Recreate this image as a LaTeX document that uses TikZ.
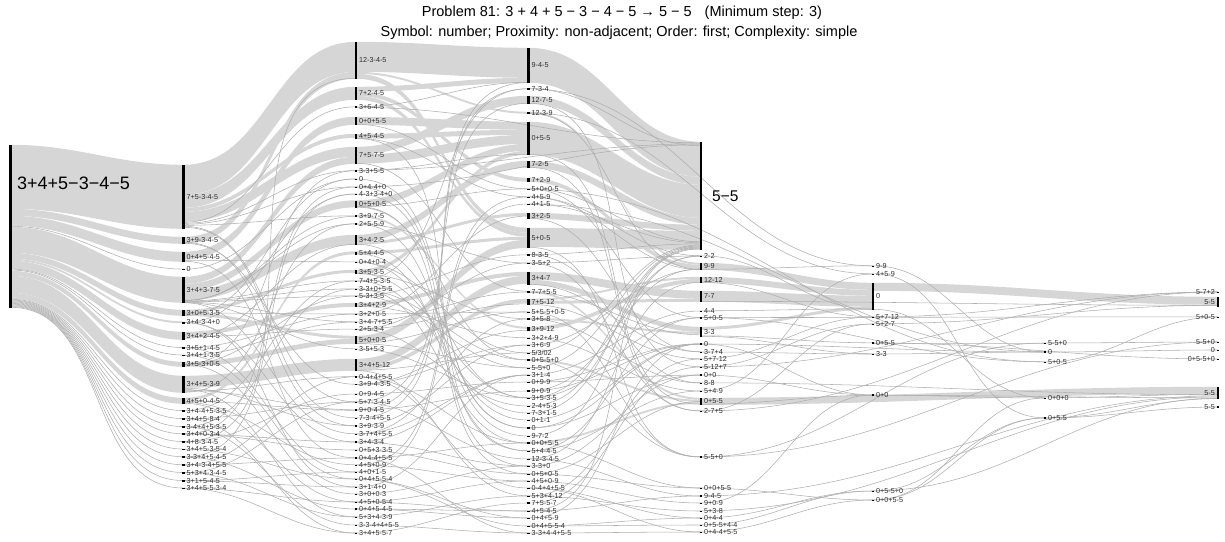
\documentclass[tikz,border=0pt]{standalone}
\usepackage{fontspec}
\setmainfont{Liberation Sans}
\usetikzlibrary{calc}
\pgfdeclarelayer{bg}
\pgfsetlayers{bg,main}
\definecolor{bandc}{RGB}{214,214,214}
\definecolor{linec}{RGB}{175,175,175}
\definecolor{txtc}{RGB}{45,45,45}
\tikzset{
  bar/.style={rectangle,fill=black,draw=none,inner sep=0pt,minimum width=2.4pt},
  lbl/.style={anchor=west,inner sep=0pt,xshift=1.6pt,font=\fontsize{7.2}{8}\selectfont,text=txtc},
  lblL/.style={anchor=east,inner sep=0pt,xshift=-1.6pt,font=\fontsize{7.2}{8}\selectfont,text=txtc},
  biglbl/.style={anchor=west,inner sep=0pt,text=black},
  band/.style={fill=bandc,draw=none},
  lnk/.style={draw=linec,line width=0.55pt},
  ttl/.style={font=\fontsize{14.5}{17}\selectfont,text=black,inner sep=0pt}
}
\newcommand\sknode[5]{\node[bar,minimum height=#4pt] (#1) at (#2,{#3+#4/2}) {};\node[lbl] (#1l) at (#1.east) {#5};}
\newcommand\sknodeL[5]{\node[bar,minimum height=#4pt] (#1) at (#2,{#3+#4/2}) {};\node[lblL] (#1l) at (#1.west) {#5};}
\newcommand\skband[5]{\fill[band] ($(#1.north)+(0,#2)$) to[out=0,in=180] ($(#4.north)+(0,#5)$) -- ++(0,#3) to[out=180,in=0] ($(#1.north)+(0,{#2+#3})$) -- cycle;}
\newcommand\sklink[4]{\draw[lnk] ($(#1.north)+(0,#2)$) to[out=0,in=180] ($(#3.north)+(0,#4)$);}
\newcommand\skline[2]{\draw[lnk] (#1.center) to[out=0,in=180] (#2.center);}
\begin{document}
\begin{tikzpicture}[x=1pt,y=-1pt]
\useasboundingbox (0,0) rectangle (1225,541);
\node[ttl] (title1) at (622,13) {Problem 81: 3 + 4 + 5 − 3 − 4 − 5 → 5 − 5\hspace{0.9em}(Minimum step: 3)};
\node[ttl] (title2) at (619,33) {Symbol: number; Proximity: non-adjacent; Order: first; Complexity: simple};
% ---------- column 0
\node[bar,minimum height=163pt,minimum width=2.8pt] (r) at (10.5,226.5) {};
\node[biglbl,font=\fontsize{18}{20}\selectfont] (rl) at (17,183) {3+4+5−3−4−5};
% ---------- column 1
\sknode{a1}{183.5}{165}{64}{7+5-3-4-5}
\sknode{a2}{183.5}{237}{7}{3+9-3-4-5}
\sknode{a3}{183.5}{252}{10}{0+4+5-4-5}
\sknode{a4}{183.5}{268.5}{1.5}{0}
\sknode{a5}{183.5}{277}{26}{3+4+3-7-5}
\sknode{a6}{183.5}{310}{6}{3+0+5-3-5}
\sknode{a7}{183.5}{321.5}{2}{3+4-3-4+0}
\sknode{a8}{183.5}{332}{8}{3+4+2-4-5}
\sknode{a9}{183.5}{347}{1.5}{3+5+1-4-5}
\sknode{a10}{183.5}{354.5}{1.5}{3+4+1-3-5}
\sknode{a11}{183.5}{362}{5}{3+5-3+0-5}
\sknode{a12}{183.5}{376}{17}{3+4+5-3-9}
\sknode{a13}{183.5}{398}{6}{4+5+0-4-5}
\sknode{a14}{183.5}{410}{1.5}{3+4-4+5-3-5}
\sknode{a15}{183.5}{418}{1.5}{3+4+5-8-4}
\sknode{a16}{183.5}{426}{1.5}{3-4+4+5-3-5}
\sknode{a17}{183.5}{433}{2}{3+4+0-3-4}
\sknode{a18}{183.5}{441}{1.5}{4+8-3-4-5}
\sknode{a19}{183.5}{448.5}{1.5}{3+4+5-3-5-4}
\sknode{a20}{183.5}{456}{2}{3-3+4+5-4-5}
\sknode{a21}{183.5}{464}{2}{3+4-3-4+5-5}
\sknode{a22}{183.5}{472}{1.5}{5+3+4-3-4-5}
\sknode{a23}{183.5}{480}{1.5}{3+1+5-4-5}
\sknode{a24}{183.5}{487.5}{1.5}{3+4+5-5-3-4}
% ---------- column 2
\sknode{b1}{356}{42}{37}{12-3-4-5}
\sknode{b2}{356}{87}{13}{7+2-4-5}
\sknode{b3}{356}{106}{2}{3+6-4-5}
\sknode{b4}{356}{117}{8}{0+0+5-5}
\sknode{b5}{356}{134}{5}{4+5-4-5}
\sknode{b6}{356}{147}{17}{7+5-7-5}
\sknode{b7}{356}{170}{1.5}{3-3+5-5}
\sknode{b8}{356}{178.5}{1}{0}
\sknode{b9}{356}{186.5}{1}{0+4-4+0}
\sknode{b10}{356}{193.5}{1}{4-3+3-4+0}
\sknode{b11}{356}{200.5}{7}{0+5+0-5}
\sknode{b12}{356}{215}{2}{3+9-7-5}
\sknode{b13}{356}{223}{2}{2+5-5-9}
\sknode{b14}{356}{235}{10}{3+4-2-5}
\sknode{b15}{356}{251.5}{3}{5+4-4-5}
\sknode{b16}{356}{261.5}{1}{0+4+0-4}
\sknode{b17}{356}{270}{4}{3+5-3-5}
\sknode{b18}{356}{280.5}{1}{7-4+5-3-5}
\sknode{b19}{356}{288.5}{1}{3-3+0+5-5}
\sknode{b20}{356}{295.5}{1}{5-3+3-5}
\sknode{b21}{356}{303}{4}{3+4+2-9}
\sknode{b22}{356}{313.5}{1}{3+2+0-5}
\sknode{b23}{356}{321.5}{1}{3+4-7+5-5}
\sknode{b24}{356}{328.5}{1.5}{2+5-3-4}
\sknode{b25}{356}{336}{8}{5+0+0-5}
\sknode{b26}{356}{348.5}{1}{3-5+5-3}
\sknode{b27}{356}{359}{12}{3+4+5-12}
\sknode{b28}{356}{376}{1.5}{0-4+4+5-5}
\sknode{b29}{356}{384}{1}{3+9-4-3-5}
\sknode{b30}{356}{393.5}{1}{0+9-4-5}
\sknode{b31}{356}{401.5}{1}{5+7-3-4-5}
\sknode{b32}{356}{409}{2}{9+0-4-5}
\sknode{b33}{356}{417.5}{1}{7-3-4+5-5}
\sknode{b34}{356}{425}{2}{3+9-3-9}
\sknode{b35}{356}{433.5}{1}{3-7+4+5-5}
\sknode{b36}{356}{441}{2}{3+4-3-4}
\sknode{b37}{356}{449.5}{1}{0+5+3-3-5}
\sknode{b38}{356}{457}{2}{0+4-4+5-5}
\sknode{b39}{356}{464.5}{1}{4+5+0-9}
\sknode{b40}{356}{471.5}{1}{4+0+1-5}
\sknode{b41}{356}{478.5}{1}{0+4+5-5-4}
\sknode{b42}{356}{486.5}{1}{3+1-4+0}
\sknode{b43}{356}{493.5}{1}{3+0+0-3}
\sknode{b44}{356}{501.5}{1}{4+5+0-5-4}
\sknode{b45}{356}{508}{2}{0+4+5-4-5}
\sknode{b46}{356}{516.5}{1}{5+3+4-3-9}
\sknode{b47}{356}{524.5}{1}{3-3-4+4+5-5}
\sknode{b48}{356}{532.5}{1}{3+4+5-5-7}
% ---------- column 3
\sknode{c1}{528.5}{48}{35}{9-4-5}
\sknode{c2}{528.5}{88}{1.5}{7-3-4}
\sknode{c3}{528.5}{96}{8}{12-7-5}
\sknode{c4}{528.5}{112}{2}{12-3-9}
\sknode{c5}{528.5}{122}{33}{0+5-5}
\sknode{c6}{528.5}{161}{7}{7-2-5}
\sknode{c7}{528.5}{178}{4}{7+2-9}
\sknode{c8}{528.5}{188.5}{1}{5+0+0-5}
\sknode{c9}{528.5}{196.5}{1}{4+5-9}
\sknode{c10}{528.5}{203.5}{1}{4+1-5}
\sknode{c11}{528.5}{213}{6}{3+2-5}
\sknode{c12}{528.5}{228}{20}{5+0-5}
\sknode{c13}{528.5}{254}{1.5}{8-3-5}
\sknode{c14}{528.5}{262.5}{1}{3-5+2}
\sknode{c15}{528.5}{272}{13}{3+4-7}
\sknode{c16}{528.5}{291}{2}{7-7+5-5}
\sknode{c17}{528.5}{299}{6}{7+5-12}
\sknode{c18}{528.5}{311.5}{1}{5+5-5+0-5}
\sknode{c19}{528.5}{318}{2}{3+5-8}
\sknode{c20}{528.5}{327}{4}{3+9-12}
\sknode{c21}{528.5}{337.5}{1}{3+2+4-9}
\sknode{c22}{528.5}{344.5}{1}{3+6-9}
\sknode{c23}{528.5}{352.5}{1}{5/3/02}
\sknode{c24}{528.5}{359}{2}{0+5-5+0}
\sknode{c25}{528.5}{367.5}{1}{5-5+0}
\sknode{c26}{528.5}{374.5}{1}{3+1-4}
\sknode{c27}{528.5}{381.5}{1}{0+9-9}
\sknode{c28}{528.5}{390}{2}{9+0-9}
\sknode{c29}{528.5}{397.5}{1}{3+5-3-5}
\sknode{c30}{528.5}{405.5}{1}{2-4+5-3}
\sknode{c31}{528.5}{412.5}{1}{7-3+1-5}
\sknode{c32}{528.5}{419.5}{1}{0+1-1}
\sknode{c33}{528.5}{427}{2}{0}
\sknode{c34}{528.5}{435.5}{1}{9-7-2}
\sknode{c35}{528.5}{442}{2}{0+0+5-5}
\sknode{c36}{528.5}{450.5}{1}{5+4-4-5}
\sknode{c37}{528.5}{458.5}{1}{12-3-4-5}
\sknode{c38}{528.5}{465.5}{1}{3-3+0}
\sknode{c39}{528.5}{473.5}{1}{0+5+0-5}
\sknode{c40}{528.5}{480.5}{1}{4+5+0-9}
\sknode{c41}{528.5}{487.5}{1}{0-4+4+5-5}
\sknode{c42}{528.5}{495.5}{1}{5+3+4-12}
\sknode{c43}{528.5}{502}{2}{7+5-5-7}
\sknode{c44}{528.5}{510.5}{1}{4+5-4-5}
\sknode{c45}{528.5}{517.5}{1}{0+4+5-9}
\sknode{c46}{528.5}{525.5}{1}{0+4+5-5-4}
\sknode{c47}{528.5}{532.5}{1}{3-3+4-4+5-5}
% ---------- column 4
\node[bar,minimum height=108pt] (d1) at (701,196) {};
\node[biglbl,font=\fontsize{15.5}{18}\selectfont] (d1l) at (712,196) {5−5};
\sknode{d2}{701}{255.5}{1}{2-2}
\sknode{d3}{701}{263}{7}{9-9}
\sknode{d4}{701}{277}{6}{12-12}
\sknode{d5}{701}{291}{11}{7-7}
\sknode{d6}{701}{310.5}{1}{4-4}
\sknode{d7}{701}{317}{1.5}{5+0-5}
\sknode{d8}{701}{327}{10}{3-3}
\sknode{d9}{701}{343}{2}{0}
\sknode{d10}{701}{351.5}{1}{3-7+4}
\sknode{d11}{701}{358.5}{1}{5+7-12}
\sknode{d12}{701}{366.5}{1}{5-12+7}
\sknode{d13}{701}{374}{2}{0+0}
\sknode{d14}{701}{382.5}{1}{8-8}
\sknode{d15}{701}{390.5}{1}{5+4-9}
\sknode{d16}{701}{398}{7}{0+5-5}
\sknode{d17}{701}{410.5}{1}{2-7+5}
\sknode{d18}{701}{456}{2}{5-5+0}
\sknode{d19}{701}{487.5}{1}{0+0+5-5}
\sknode{d20}{701}{495}{2}{9-4-5}
\sknode{d21}{701}{502.5}{1}{9+0-9}
\sknode{d22}{701}{510.5}{1}{5+3-8}
\sknode{d23}{701}{517.5}{1}{0+4-4}
\sknode{d24}{701}{524.5}{1}{0+5-5+4-4}
\sknode{d25}{701}{531.5}{1}{0+4-4+5-5}
% ---------- column 5
\sknode{e1}{873}{265.5}{1}{9-9}
\sknode{e2}{873}{273.5}{1}{4+5-9}
\sknode{e3}{873}{283}{27}{0}
\sknode{e4}{873}{316.5}{1}{5+7-12}
\sknode{e5}{873}{323.5}{1}{5+2-7}
\sknode{e6}{873}{342}{2}{0+5-5}
\sknode{e7}{873}{353.5}{1}{3-3}
\sknode{e8}{873}{394}{2}{0+0}
\sknode{e9}{873}{490.5}{1}{0+5-5+0}
\sknode{e10}{873}{499.5}{1}{0+0+5-5}
% ---------- column 6
\sknode{f1}{1045}{342.5}{1}{5-5+0}
\sknode{f2}{1045}{351}{2}{0}
\sknode{f3}{1045}{361.5}{1}{5+0-5}
\sknode{f4}{1045}{397.5}{1}{0+0+0}
\sknode{f5}{1045}{417}{2}{0+5-5}
% ---------- column 7
\sknodeL{g1}{1218}{291.5}{1}{5-7+2}
\sknodeL{g2}{1218}{297}{10}{5-5}
\sknodeL{g3}{1218}{316.5}{1}{5+0-5}
\sknodeL{g4}{1218}{341.5}{1}{5-5+0}
\sknodeL{g5}{1218}{349.5}{1}{0}
\sknodeL{g6}{1218}{358.5}{1}{0+5-5+0}
\sknodeL{g7}{1218}{387}{12}{5-5}
\sknodeL{g8}{1218}{406}{2}{5-5}
\begin{pgfonlayer}{bg}
% ---------- bands
\skband{r}{0}{64}{a1}{0}
\skband{r}{64}{7}{a2}{0}
\skband{r}{71}{10}{a3}{0}
\skband{r}{82}{26}{a5}{0}
\skband{r}{108}{6}{a6}{0}
\skband{r}{114}{2}{a7}{0}
\skband{r}{116}{8}{a8}{0}
\skband{r}{126}{5}{a11}{0}
\skband{r}{131}{17}{a12}{0}
\skband{r}{148}{6}{a13}{0}
\skband{a1}{0}{30}{b1}{0}
\skband{a2}{0}{7}{b1}{30}
\skband{a1}{30}{13}{b2}{0}
\skband{a1}{43}{4}{b5}{0}
\skband{a1}{47}{10}{b6}{0}
\skband{a3}{0}{8}{b4}{0}
\skband{a5}{0}{7}{b6}{10}
\skband{a5}{7}{7}{b11}{0}
\skband{a5}{14}{10}{b14}{0}
\skband{a6}{0}{3}{b17}{0}
\skband{a6}{3}{3}{b25}{0}
\skband{a8}{0}{4}{b21}{0}
\skband{a11}{0}{5}{b25}{3}
\skband{a12}{0}{12}{b27}{0}
\skband{a13}{0}{3}{b15}{0}
\skband{b1}{0}{30}{c1}{0}
\skband{b1}{30}{2}{c4}{0}
\skband{b1}{32}{5}{c12}{0}
\skband{b2}{0}{5}{c1}{30}
\skband{b2}{5}{4}{c7}{0}
\skband{b2}{9}{4}{c12}{5}
\skband{b6}{0}{8}{c3}{0}
\skband{b4}{0}{8}{c5}{0}
\skband{b5}{0}{5}{c5}{8}
\skband{b6}{8}{9}{c5}{13}
\skband{b11}{0}{7}{c5}{22}
\skband{b17}{0}{4}{c5}{29}
\skband{b14}{0}{7}{c6}{0}
\skband{b14}{7}{3}{c11}{0}
\skband{b15}{0}{3}{c12}{9}
\skband{b25}{0}{8}{c12}{12}
\skband{b21}{0}{4}{c15}{0}
\skband{b27}{0}{8}{c15}{4}
\skband{b27}{8}{4}{c17}{0}
\skband{b12}{0}{2}{c20}{0}
\skband{c1}{0}{35}{d1}{0}
\skband{c3}{0}{8}{d1}{35}
\skband{c5}{0}{33}{d1}{43}
\skband{c6}{0}{7}{d1}{76}
\skband{c11}{0}{6}{d1}{83}
\skband{c12}{0}{19}{d1}{89}
\skband{c4}{0}{2}{d3}{0}
\skband{c7}{0}{4}{d3}{2}
\skband{c17}{0}{2}{d4}{0}
\skband{c20}{0}{4}{d4}{2}
\skband{c15}{0}{8}{d5}{0}
\skband{c17}{2}{3}{d5}{8}
\skband{c15}{8}{5}{d8}{0}
\skband{c19}{0}{2}{d8}{5}
\skband{c16}{0}{2}{d16}{0}
\skband{c24}{0}{2}{d16}{2}
\skband{c35}{0}{2}{d16}{4}
\skband{d3}{0}{7}{e3}{0}
\skband{d4}{0}{6}{e3}{7}
\skband{d5}{0}{11}{e3}{13}
\skband{d8}{0}{3}{e3}{24}
\skband{e3}{0}{8}{g2}{0}
\skband{d16}{0}{7}{g7}{0}
% ---------- thin links: root -> column 1
\sklink{r}{81.5}{a4}{0.75}
\sklink{r}{124.3}{a9}{0.75}
\sklink{r}{125.2}{a10}{0.75}
\sklink{r}{154.5}{a14}{0.75}
\sklink{r}{155.3}{a15}{0.75}
\sklink{r}{156.1}{a16}{0.75}
\sklink{r}{156.9}{a17}{1}
\sklink{r}{157.7}{a18}{0.75}
\sklink{r}{158.5}{a19}{0.75}
\sklink{r}{159.3}{a20}{1}
\sklink{r}{160.1}{a21}{1}
\sklink{r}{160.9}{a22}{0.75}
\sklink{r}{161.7}{a23}{0.75}
\sklink{r}{162.5}{a24}{0.75}
% ---------- column 1 -> column 2
\sklink{a1}{57.5}{b3}{1}
\sklink{a1}{58.5}{b7}{0.75}
\sklink{a1}{59.5}{b9}{0.5}
\sklink{a1}{60.5}{b12}{1}
\sklink{a1}{61.5}{b31}{0.5}
\sklink{a1}{62.5}{b33}{0.5}
\sklink{a3}{8.5}{b16}{0.5}
\sklink{a3}{9.5}{b38}{1}
\skline{a4}{b8}
\sklink{a2}{6.5}{b29}{0.5}
\sklink{a2}{5.5}{b34}{1}
\sklink{a5}{24.2}{b18}{0.5}
\sklink{a5}{24.6}{b19}{0.5}
\sklink{a5}{25}{b20}{0.5}
\sklink{a5}{25.4}{b23}{0.5}
\sklink{a5}{25.8}{b26}{0.5}
\sklink{a5}{23.8}{b12}{1.5}
\sklink{a5}{25.9}{b35}{0.5}
\sklink{a5}{23.5}{b13}{1}
\skline{a6}{b22}
\sklink{a6}{5.5}{b8}{0.5}
\skline{a7}{b10}
\skline{a7}{b36}
\skline{a7}{b42}
\sklink{a8}{5}{b24}{0.75}
\sklink{a8}{6.5}{b14}{9.5}
\skline{a9}{b40}
\skline{a9}{b22}
\skline{a10}{b23}
\skline{a10}{b41}
\skline{a11}{b20}
\skline{a11}{b43}
\skline{a11}{b7}
\sklink{a12}{12.5}{b34}{1}
\sklink{a12}{13.5}{b46}{0.5}
\sklink{a12}{14.5}{b32}{1}
\sklink{a12}{15.5}{b28}{0.75}
\sklink{a12}{16.5}{b13}{1}
\sklink{a13}{3.5}{b32}{1.5}
\sklink{a13}{4.5}{b39}{0.5}
\sklink{a13}{5.5}{b44}{0.5}
\skline{a14}{b18}
\skline{a15}{b48}
\skline{a15}{b31}
\skline{a16}{b19}
\skline{a16}{b47}
\skline{a17}{b36}
\skline{a17}{b37}
\skline{a17}{b9}
\skline{a18}{b30}
\sklink{a18}{0.75}{b1}{36.5}
\skline{a19}{b41}
\skline{a20}{b45}
\skline{a20}{b10}
\skline{a21}{b38}
\skline{a21}{b28}
\skline{a22}{b46}
\skline{a22}{b31}
\skline{a23}{b40}
\skline{a23}{b42}
\skline{a24}{b48}
\skline{a24}{b44}
% ---------- column 2 -> column 3
\sklink{b3}{1}{c1}{34.5}
\sklink{b7}{0.75}{c5}{32.5}
\skline{b8}{c33}
\skline{b9}{c33}
\skline{b10}{c38}
\skline{b13}{c34}
\skline{b13}{c14}
\skline{b16}{c32}
\skline{b16}{c23}
\skline{b18}{c2}
\skline{b18}{c31}
\skline{b19}{c24}
\skline{b19}{c35}
\skline{b20}{c13}
\skline{b20}{c25}
\skline{b22}{c11}
\skline{b22}{c18}
\skline{b23}{c16}
\skline{b24}{c14}
\skline{b24}{c30}
\sklink{b24}{1}{c17}{5}
\skline{b26}{c29}
\skline{b28}{c35}
\skline{b28}{c41}
\skline{b29}{c22}
\sklink{b29}{0.5}{c20}{3.5}
\skline{b30}{c27}
\skline{b31}{c37}
\sklink{b31}{0.5}{c3}{7.5}
\skline{b32}{c28}
\sklink{b32}{1}{c1}{34.8}
\skline{b33}{c2}
\skline{b34}{c22}
\skline{b35}{c26}
\skline{b35}{c19}
\skline{b36}{c38}
\skline{b36}{c26}
\skline{b37}{c39}
\skline{b38}{c35}
\skline{b38}{c47}
\skline{b39}{c9}
\skline{b39}{c40}
\skline{b40}{c10}
\skline{b41}{c46}
\skline{b41}{c45}
\skline{b42}{c26}
\skline{b43}{c38}
\skline{b44}{c40}
\skline{b44}{c44}
\skline{b45}{c44}
\skline{b45}{c45}
\skline{b46}{c42}
\skline{b47}{c47}
\skline{b48}{c43}
\sklink{b4}{7.5}{c8}{0.5}
\sklink{b5}{4.5}{c9}{0.5}
\sklink{b5}{4.8}{c36}{0.5}
\sklink{b6}{16.5}{c16}{0.5}
\sklink{b11}{6.5}{c8}{0.5}
\sklink{b11}{6.8}{c24}{1}
\sklink{b11}{6.2}{c39}{0.5}
\sklink{b14}{9.5}{c29}{0.5}
\sklink{b15}{2.5}{c36}{0.5}
\sklink{b17}{3.5}{c29}{0.5}
\sklink{b17}{3.8}{c19}{1}
\sklink{b21}{3.5}{c21}{0.5}
\sklink{b25}{7.5}{c18}{0.5}
\sklink{b25}{7.8}{c25}{0.5}
\sklink{b27}{11.5}{c23}{0.5}
\sklink{b27}{11.8}{c42}{0.5}
\sklink{b7}{0.5}{d1}{2}
\sklink{b9}{0.5}{d1}{3}
\sklink{b3}{1.5}{d1}{1}
% ---------- column 3 -> column 4
\sklink{c2}{0.75}{d1}{4}
\sklink{c4}{1.5}{d3}{6.5}
\sklink{c8}{0.5}{d7}{0.75}
\sklink{c8}{0.5}{d1}{100}
\sklink{c9}{0.5}{d3}{6.8}
\sklink{c9}{0.5}{d2}{0.5}
\sklink{c10}{0.5}{d1}{101}
\sklink{c13}{0.75}{d1}{102}
\sklink{c13}{0.75}{d14}{0.5}
\skline{c14}{d2}
\skline{c14}{d17}
\skline{c18}{d18}
\skline{c19}{d14}
\skline{c21}{d15}
\sklink{c22}{0.5}{d3}{6.5}
\sklink{c23}{0.5}{d1}{103}
\skline{c24}{d18}
\sklink{c25}{0.5}{d1}{104}
\skline{c26}{d6}
\sklink{c27}{0.5}{d9}{1}
\skline{c27}{d13}
\sklink{c28}{1}{d3}{6}
\skline{c28}{d9}
\sklink{c29}{0.5}{d1}{105}
\skline{c29}{d7}
\skline{c30}{d2}
\sklink{c31}{0.5}{d1}{106}
\skline{c32}{d9}
\skline{c33}{d9}
\skline{c33}{d13}
\skline{c34}{d2}
\skline{c35}{d19}
\skline{c36}{d7}
\skline{c36}{d15}
\skline{c37}{d20}
\sklink{c37}{0.5}{d4}{5.5}
\skline{c38}{d13}
\skline{c39}{d16}
\skline{c39}{d19}
\skline{c40}{d21}
\skline{c41}{d23}
\skline{c41}{d25}
\skline{c42}{d22}
\skline{c42}{d11}
\skline{c43}{d12}
\skline{c44}{d20}
\sklink{c44}{0.5}{d1}{107}
\skline{c45}{d9}
\skline{c46}{d24}
\skline{c46}{d23}
\skline{c47}{d25}
\sklink{c6}{6.5}{d17}{0.5}
\sklink{c11}{5.5}{d10}{0.5}
\sklink{c15}{12.5}{d10}{0.5}
\sklink{c17}{5.5}{d11}{0.5}
\sklink{c3}{7.5}{d12}{0.5}
\sklink{c12}{19.5}{d18}{1}
\sklink{c5}{32.5}{d16}{6.5}
\sklink{c16}{1.5}{d8}{8}
\sklink{c2}{1}{e1}{0.5}
\sklink{c4}{1}{e2}{0.5}
\sklink{c8}{1}{f3}{0.5}
\sklink{c10}{1}{f2}{1}
% ---------- column 4 -> right
\sklink{d2}{0.5}{e3}{26.5}
\sklink{d3}{6.5}{e1}{0.5}
\sklink{d6}{0.5}{e3}{26}
\sklink{d7}{0.75}{f3}{0.5}
\sklink{d7}{0.75}{g3}{0.5}
\skline{d9}{e8}
\skline{d9}{f2}
\skline{d10}{e7}
\skline{d11}{e4}
\skline{d12}{e5}
\skline{d12}{g1}
\skline{d13}{e8}
\sklink{d14}{0.5}{g7}{8}
\skline{d15}{e2}
\sklink{d16}{6.5}{e8}{1.5}
\skline{d17}{e5}
\skline{d17}{g1}
\skline{d18}{f1}
\skline{d18}{g4}
\skline{d19}{e10}
\sklink{d20}{1}{g7}{9}
\skline{d21}{e8}
\sklink{d22}{0.5}{g7}{10}
\skline{d23}{e9}
\skline{d24}{e9}
\skline{d25}{e10}
\sklink{d8}{9.5}{e7}{0.5}
\sklink{d8}{9}{e6}{1}
\sklink{d5}{10.5}{g2}{8.5}
\sklink{d4}{5.5}{e4}{0.5}
% ---------- column 5 -> right
\sklink{e1}{0.5}{f2}{1}
\sklink{e2}{0.5}{f5}{1}
\sklink{e3}{26.5}{f4}{0.5}
\skline{e4}{g1}
\sklink{e5}{0.5}{g2}{8.5}
\skline{e6}{f1}
\skline{e6}{g6}
\skline{e7}{f2}
\skline{e8}{f4}
\sklink{e8}{1.5}{g7}{11}
\skline{e9}{f5}
\sklink{e9}{0.5}{g7}{11.5}
\skline{e10}{f5}
\skline{e10}{f4}
% ---------- column 6 -> column 7
\skline{f1}{g4}
\skline{f2}{g5}
\skline{f3}{g3}
\sklink{f4}{0.5}{g7}{7.5}
\sklink{f5}{1}{g7}{11.8}
\skline{f5}{g8}
\end{pgfonlayer}
\end{tikzpicture}
\end{document}
